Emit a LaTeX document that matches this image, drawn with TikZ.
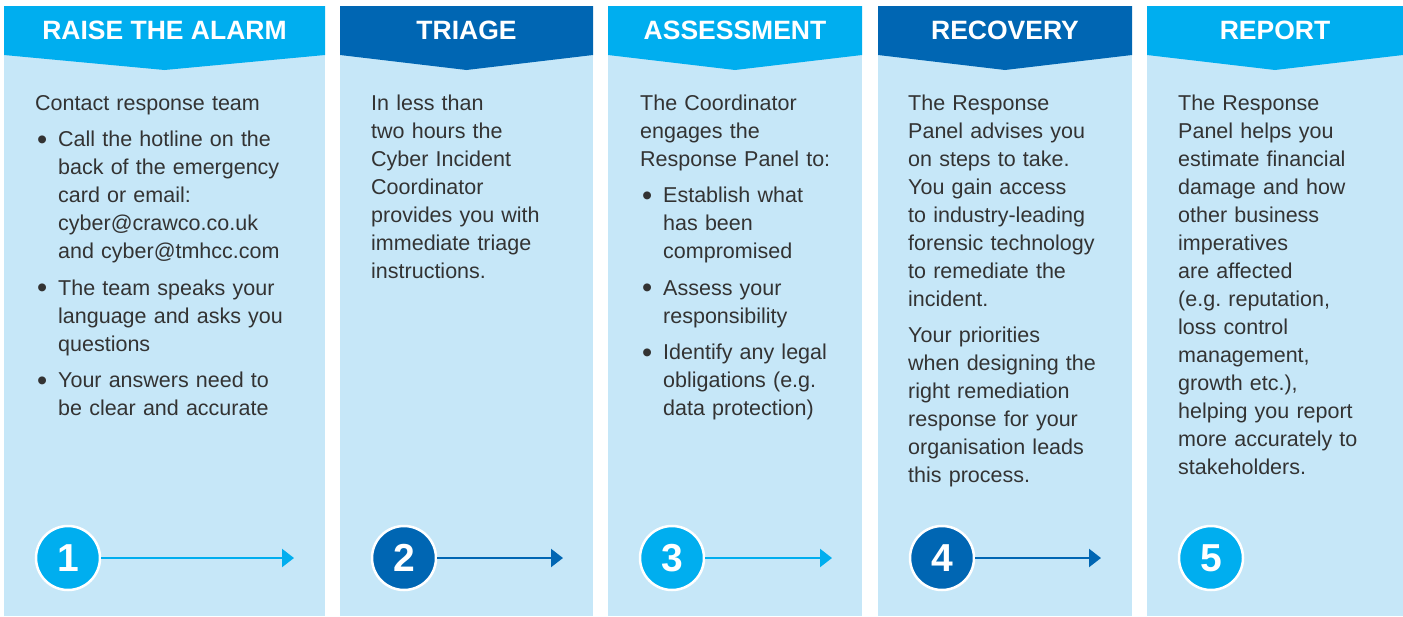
\documentclass[tikz,border=0pt]{standalone}
\usepackage{fontspec}
\setmainfont{Liberation Sans}
\usetikzlibrary{arrows.meta}

\definecolor{alarmcyan}{HTML}{00AEEF}
\definecolor{alarmblue}{HTML}{0066B3}
\definecolor{panelblue}{HTML}{C6E7F8}
\definecolor{bodytext}{HTML}{333333}

% bullet item and plain paragraph inside a column text
\newcommand\stepbullet{\par\vspace{8.5pt}\leftskip=23pt\noindent\llap{\raisebox{-2.5pt}{\scalebox{1.35}{\textbullet}}\hspace{11pt}}}
\newcommand\steppar{\par\vspace{8.5pt}\leftskip=0pt\noindent}

\tikzset{
  steptitle/.style={anchor=base, inner sep=0pt, text=white,
    font=\fontsize{26.5}{26.5}\bfseries\selectfont},
  steptext/.style={anchor=base west, inner sep=0pt, text width=235pt,
    align=left, text=bodytext, font=\fontsize{21.5}{28}\selectfont\frenchspacing},
  stepnum/.style={circle, draw=white, line width=2.5pt, minimum size=64pt,
    inner sep=0pt, text=white, font=\fontsize{39}{39}\bfseries\selectfont},
  steparrow/.style={line width=2.2pt, -{Triangle[length=12pt,width=18pt]}}
}

\begin{document}
\begin{tikzpicture}[x=1pt, y=-1pt]

    %% Background
    \useasboundingbox (0,0) rectangle (1403,616);

    % Columns and headers
    \foreach \xa/\xb/\hue/\title/\tag in {4/325/alarmcyan/RAISE THE ALARM/h1,
        340/593/alarmblue/TRIAGE/h2, 608/862/alarmcyan/ASSESSMENT/h3,
        878/1132/alarmblue/RECOVERY/h4, 1147/1403/alarmcyan/REPORT/h5}
    {
    \fill[panelblue] (\xa,6) rectangle (\xb,616);
    \fill[\hue] (\xa,6) -- (\xb,6) -- (\xb,55) -- ({(\xa+\xb)/2},70) -- (\xa,55) -- cycle;
    \node[steptitle] (\tag) at ({(\xa+\xb)/2},39.5) {\title};
    }

    % Texts
    \node[steptext, text width=270pt] (raise) at (35,110) {Contact response team
      \stepbullet Call the hotline on the\\back of the emergency\\card or email:\\cyber@crawco.co.uk\\and cyber@tmhcc.com
      \stepbullet The team speaks your\\language and asks you\\questions
      \stepbullet Your answers need to\\be clear and accurate\par};

    \node[steptext] (triage) at (371,110) {In less than\\two hours the\\Cyber Incident\\Coordinator\\provides you with\\immediate triage\\instructions.};

    \node[steptext] (assess) at (640,110) {The Coordinator\\engages the\\Response Panel to:
      \stepbullet Establish what\\has been\\compromised
      \stepbullet Assess your\\responsibility
      \stepbullet Identify any legal\\obligations (e.g.\\data protection)\par};

    \node[steptext] (recover) at (908,110) {The Response\\Panel advises you\\on steps to take.\\You gain access\\to industry-leading\\forensic technology\\to remediate the\\incident.
      \steppar Your priorities\\when designing the\\right remediation\\response for your\\organisation leads\\this process.};

    \node[steptext] (report) at (1178,110) {The Response\\Panel helps you\\estimate financial\\damage and how\\other business\\imperatives\\are affected\\(e.g. reputation,\\loss control\\management,\\growth etc.),\\helping you report\\more accurately to\\stakeholders.};

    % Step numbers
    \node[stepnum, fill=alarmcyan] (n1) at (68,558) {1};
    \node[stepnum, fill=alarmblue] (n2) at (404,558) {2};
    \node[stepnum, fill=alarmcyan] (n3) at (672,558) {3};
    \node[stepnum, fill=alarmblue] (n4) at (942,558) {4};
    \node[stepnum, fill=alarmcyan] (n5) at (1211,558) {5};

    % Arrows
    \coordinate (e1) at (294,558);
    \coordinate (e2) at (563,558);
    \coordinate (e3) at (832,558);
    \coordinate (e4) at (1101,558);
    \draw[steparrow, alarmcyan] (n1) -- (e1);
    \draw[steparrow, alarmblue] (n2) -- (e2);
    \draw[steparrow, alarmcyan] (n3) -- (e3);
    \draw[steparrow, alarmblue] (n4) -- (e4);

\end{tikzpicture}
\end{document}
